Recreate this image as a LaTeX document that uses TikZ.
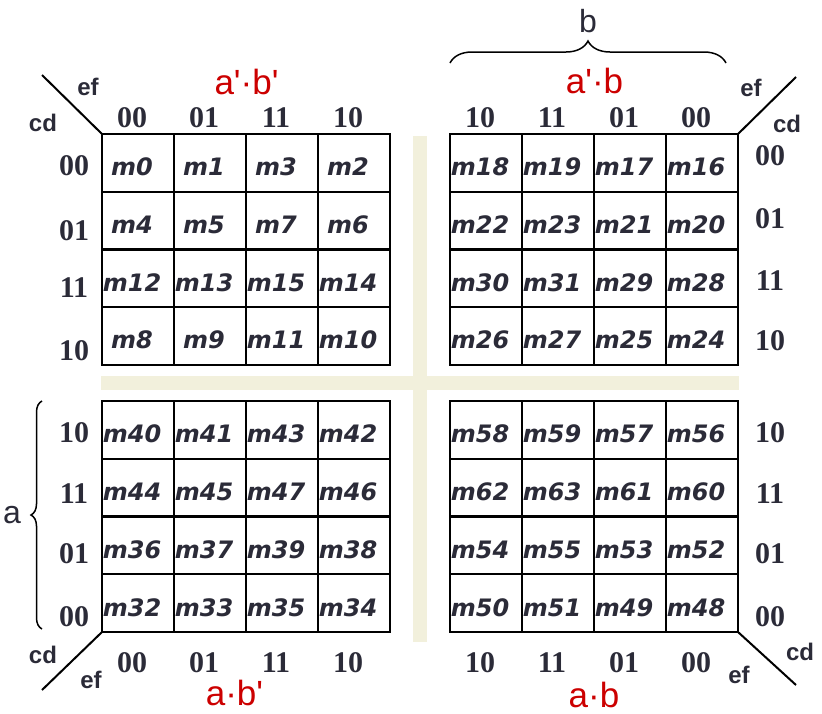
\documentclass[tikz,border=0pt]{standalone}
\usepackage{fontspec}
\setmainfont{Liberation Serif}
\newfontfamily\cellfont{DejaVu Sans}
\newfontfamily\lblfont{Liberation Sans}
\newfontfamily\redfont[Ligatures=TeXOff]{Liberation Sans}
\usetikzlibrary{decorations.pathreplacing}
\definecolor{ink}{RGB}{43,43,56}
\definecolor{kred}{RGB}{204,0,0}
\definecolor{barcol}{RGB}{242,240,220}
\tikzset{
  gridline/.style={line width=2.2pt, line cap=rect},
  diag/.style={line width=2pt},
  bracestyle/.style={line width=1.5pt, decorate},
  txt/.style={inner sep=0pt, anchor=base, text=ink},
  celltxt/.style={txt, font=\cellfont\bfseries\itshape\fontsize{24}{24}\selectfont},
  numlbl/.style={txt, font=\bfseries\fontsize{30}{30}\selectfont},
  varlbl/.style={txt, font=\lblfont\bfseries\fontsize{24}{24}\selectfont},
  redlbl/.style={txt, text=kred, font=\redfont\fontsize{35}{35}\selectfont},
  biglbl/.style={txt, font=\lblfont\fontsize{32}{32}\selectfont},
}
\begin{document}
\begin{tikzpicture}[x=1pt,y=-1pt]
\useasboundingbox (0,0) rectangle (822,713);
% separator bars
\fill[barcol] (101,376) rectangle (739,390);
\fill[barcol] (413,136) rectangle (427,642);
% grid corners
\coordinate (tlNW) at (102,134); \coordinate (trNE) at (738,134);
\coordinate (blSW) at (102,632); \coordinate (brSE) at (738,632);
% grids
\foreach \X in {102,450} {
  \foreach \Y in {134,401} {
    \draw[gridline] (\X,\Y) rectangle ({\X+288},{\Y+231});
    \foreach \i in {1,2,3} {
      \draw[gridline] ({\X+72*\i},\Y) -- ({\X+72*\i},{\Y+231});
      \draw[gridline] (\X,{\Y+57.75*\i}) -- ({\X+288},{\Y+57.75*\i});
    }
  }
}
% cell texts, top-left
\foreach \m [count=\c from 0] in {0,1,3,2} \node[celltxt] (m\m) at ({132+72*\c},175.5) {m\m};
\foreach \m [count=\c from 0] in {4,5,7,6} \node[celltxt] (m\m) at ({132+72*\c},233) {m\m};
\foreach \m [count=\c from 0] in {12,13,15,14} \node[celltxt] (m\m) at ({132+72*\c},291) {m\m};
\foreach \m [count=\c from 0] in {8,9,11,10} \node[celltxt] (m\m) at ({132+72*\c},348.5) {m\m};
% top-right
\foreach \m [count=\c from 0] in {18,19,17,16} \node[celltxt] (m\m) at ({480+72*\c},175.5) {m\m};
\foreach \m [count=\c from 0] in {22,23,21,20} \node[celltxt] (m\m) at ({480+72*\c},233) {m\m};
\foreach \m [count=\c from 0] in {30,31,29,28} \node[celltxt] (m\m) at ({480+72*\c},291) {m\m};
\foreach \m [count=\c from 0] in {26,27,25,24} \node[celltxt] (m\m) at ({480+72*\c},348.5) {m\m};
% bottom-left
\foreach \m [count=\c from 0] in {40,41,43,42} \node[celltxt] (m\m) at ({132+72*\c},442.5) {m\m};
\foreach \m [count=\c from 0] in {44,45,47,46} \node[celltxt] (m\m) at ({132+72*\c},500.25) {m\m};
\foreach \m [count=\c from 0] in {36,37,39,38} \node[celltxt] (m\m) at ({132+72*\c},558) {m\m};
\foreach \m [count=\c from 0] in {32,33,35,34} \node[celltxt] (m\m) at ({132+72*\c},616.5) {m\m};
% bottom-right
\foreach \m [count=\c from 0] in {58,59,57,56} \node[celltxt] (m\m) at ({480+72*\c},442.5) {m\m};
\foreach \m [count=\c from 0] in {62,63,61,60} \node[celltxt] (m\m) at ({480+72*\c},500.25) {m\m};
\foreach \m [count=\c from 0] in {54,55,53,52} \node[celltxt] (m\m) at ({480+72*\c},558) {m\m};
\foreach \m [count=\c from 0] in {50,51,49,48} \node[celltxt] (m\m) at ({480+72*\c},616.5) {m\m};
% column labels
\foreach \t [count=\c from 0] in {00,01,11,10} {
  \node[numlbl] (tlc\c) at ({132+72*\c},127) {\t};
  \node[numlbl] (blc\c) at ({132+72*\c},672) {\t};
}
\foreach \t [count=\c from 0] in {10,11,01,00} {
  \node[numlbl] (trc\c) at ({480+72*\c},127) {\t};
  \node[numlbl] (brc\c) at ({480+72*\c},672) {\t};
}
% row labels
\foreach \t/\yy [count=\c from 0] in {00/175,01/240,11/297,10/360} \node[numlbl] (tlr\c) at (74,\yy) {\t};
\foreach \t/\yy [count=\c from 0] in {00/165,01/228,11/290,10/350} \node[numlbl] (trr\c) at (770,\yy) {\t};
\foreach \t/\yy [count=\c from 0] in {10/442,11/503,01/563,00/626} \node[numlbl] (blr\c) at (74,\yy) {\t};
\foreach \t/\yy [count=\c from 0] in {10/442,11/503,01/563,00/626} \node[numlbl] (brr\c) at (770,\yy) {\t};
% corner diagonals
\coordinate (tlD) at (42,75); \coordinate (trD) at (796,77);
\coordinate (blD) at (42,690); \coordinate (brD) at (796,685);
\draw[diag] (tlD) -- (tlNW);
\draw[diag] (trNE) -- (trD);
\draw[diag] (blSW) -- (blD);
\draw[diag] (brSE) -- (brD);
% variable labels
\node[varlbl] (ef1) at (88,95) {ef};
\node[varlbl] (cd1) at (43,131) {cd};
\node[varlbl] (ef2) at (751,96) {ef};
\node[varlbl] (cd2) at (787,132) {cd};
\node[varlbl] (cd3) at (43,663) {cd};
\node[varlbl] (ef3) at (91,688) {ef};
\node[varlbl] (ef4) at (739,683) {ef};
\node[varlbl] (cd4) at (800,660) {cd};
% quadrant labels
\node[redlbl] (q1) at (246.5,94) {a'·b'};
\node[redlbl] (q2) at (594.5,93) {a'·b};
\node[redlbl] (q3) at (234.5,705) {a·b'};
\node[redlbl] (q4) at (594,707) {a·b};
% braces
\coordinate (bL) at (450,63); \coordinate (bR) at (726,63);
\draw[bracestyle, decoration={brace, amplitude=22pt}] (bL) -- (bR);
\node[biglbl] (vb) at (588,32) {b};
\coordinate (aB) at (42,629); \coordinate (aT) at (42,401);
\draw[bracestyle, decoration={brace, amplitude=11pt}] (aB) -- (aT);
\node[biglbl] (va) at (12,523) {a};
\end{tikzpicture}
\end{document}
